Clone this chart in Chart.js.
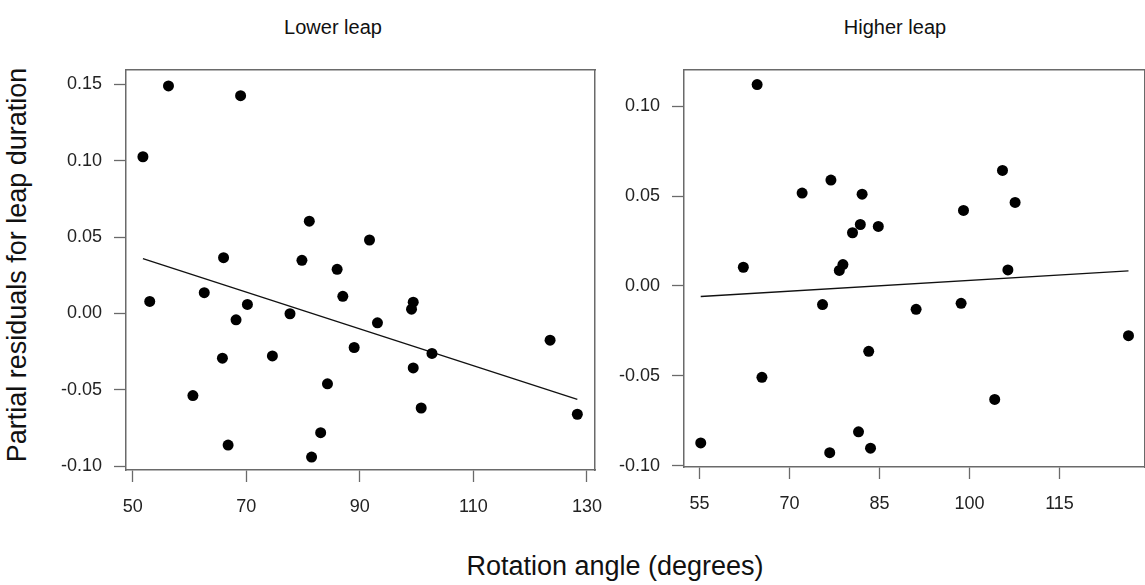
<!DOCTYPE html>
<html>
<head>
<meta charset="utf-8">
<script src="https://cdn.jsdelivr.net/npm/chart.js@4.4.1/dist/chart.umd.min.js"></script>
<style>
  html, body { margin: 0; padding: 0; background: #fff; }
  body { width: 1145px; height: 585px; position: relative; overflow: hidden; font-family: "Liberation Sans", Arial, sans-serif; }
  .box { position: absolute; }
  .lbl { position: absolute; transform: translate(-50%, -50%); white-space: nowrap; color: #111; }
</style>
</head>
<body>
<div class="lbl" style="left:333px; top:27px; font-size:20px;">Lower leap</div>
<div class="lbl" style="left:895px; top:27px; font-size:20px;">Higher leap</div>
<div class="lbl" style="left:17px; top:265px; font-size:27px; transform: translate(-50%, -50%) rotate(-90deg);">Partial residuals for leap duration</div>
<div class="lbl" style="left:615px; top:566px; font-size:27px;">Rotation angle (degrees)</div>

<div class="box" style="left:0; top:0; width:610px; height:530px;"><canvas id="lower"></canvas></div>
<div class="box" style="left:610px; top:0; width:540px; height:527px;"><canvas id="higher"></canvas></div>

<script>
// Lower leap panel
const lowerAngle = [51.8, 56.3, 69.0, 53.0, 62.6, 66.0, 70.2, 68.2, 65.8, 60.6, 66.8, 74.6, 77.7, 79.8, 81.1,
                    86.0, 87.0, 91.7, 93.1, 89.0, 84.3, 83.1, 81.5, 99.4, 99.1, 99.4, 102.7, 100.8, 123.5, 128.3];
const lowerResid = [0.1026, 0.149, 0.1426, 0.0079, 0.0136, 0.0365, 0.0059, -0.0042, -0.0293, -0.0538, -0.0862, -0.0278, -0.0002, 0.0348, 0.0604,
                    0.0289, 0.0112, 0.0481, -0.0061, -0.0223, -0.0461, -0.0781, -0.0940, 0.0074, 0.0028, -0.0357, -0.0262, -0.0619, -0.0175, -0.066];
const lowerFitX = [51.8, 128.3];
const lowerFitY = [0.0359, -0.0562];
const lowerXTicks = [50, 70, 90, 110, 130];
const lowerYTicks = [-0.10, -0.05, 0.00, 0.05, 0.10, 0.15];

// Higher leap panel
const higherAngle = [55.2, 62.3, 64.6, 65.4, 72.1, 76.9, 75.5, 76.7, 78.3, 78.9, 80.5, 81.8, 82.1, 81.5, 83.2,
                     83.5, 84.8, 91.1, 98.6, 99.0, 104.2, 105.5, 106.4, 107.6, 126.5];
const higherResid = [-0.0874, 0.0104, 0.1121, -0.0509, 0.0517, 0.0589, -0.0104, -0.0928, 0.0086, 0.0119, 0.0296, 0.0342, 0.0511, -0.0812, -0.0364,
                     -0.0903, 0.0331, -0.0130, -0.0097, 0.0420, -0.0632, 0.0643, 0.0089, 0.0465, -0.0277];
const higherFitX = [55.2, 126.5];
const higherFitY = [-0.0059, 0.0084];
const higherXTicks = [55, 70, 85, 100, 115];
const higherYTicks = [-0.10, -0.05, 0.00, 0.05, 0.10];

const FONT = "'Liberation Sans', Arial, sans-serif";
const AXIS_GREY = '#6a6a6a';

function toPoints(xs, ys) {
    return xs.map((x, i) => ({ x: x, y: ys[i] }));
}

function frameAxis(position) {
    // plain edge of the plot box, no ticks
    return {
        type: 'linear',
        position: position,
        ticks: { display: false },
        grid: { display: false },
        border: { display: true, color: AXIS_GREY, width: 1.5 },
        afterFit: (s) => {
            if (position === 'top') s.height = 0; else s.width = 0;
            s.paddingLeft = s.paddingRight = s.paddingTop = s.paddingBottom = 0;
        }
    };
}

function makePanel(id, opts) {
    const ctx = document.getElementById(id).getContext('2d');
    new Chart(ctx, {
        type: 'scatter',
        data: {
            datasets: [{
                data: toPoints(opts.xs, opts.ys),
                backgroundColor: '#000',
                borderColor: '#000',
                pointRadius: 5.5,
                pointHoverRadius: 5.5,
                borderWidth: 0
            }, {
                type: 'line',
                data: toPoints(opts.fitX, opts.fitY),
                borderColor: '#111',
                borderWidth: 1.3,
                pointRadius: 0,
                fill: false
            }]
        },
        options: {
            responsive: true,
            maintainAspectRatio: false,
            animation: false,
            events: [],
            layout: { padding: { top: 70, right: opts.padRight, left: 0, bottom: 0 } },
            plugins: { legend: { display: false }, tooltip: { enabled: false } },
            scales: {
                x: {
                    type: 'linear',
                    min: opts.xMin,
                    max: opts.xMax,
                    afterBuildTicks: (s) => { s.ticks = opts.xTicks.map(v => ({ value: v })); },
                    afterFit: (s) => { s.height = 60; s.paddingLeft = 0; s.paddingRight = 0; },
                    grid: { display: true, drawOnChartArea: false, drawTicks: true, tickLength: 12, tickWidth: 1.3, tickColor: AXIS_GREY },
                    border: { display: true, color: AXIS_GREY, width: 1.5 },
                    ticks: { font: { family: FONT, size: 18 }, color: '#222', padding: 14, maxRotation: 0, autoSkip: false,
                             callback: (v) => String(v) }
                },
                y: {
                    type: 'linear',
                    min: opts.yMin,
                    max: opts.yMax,
                    afterBuildTicks: (s) => { s.ticks = opts.yTicks.map(v => ({ value: v })); },
                    afterFit: (s) => { s.width = opts.yWidth; s.paddingTop = 0; s.paddingBottom = 0; },
                    grid: { display: true, drawOnChartArea: false, drawTicks: true, tickLength: 12, tickWidth: 1.3, tickColor: AXIS_GREY },
                    border: { display: true, color: AXIS_GREY, width: 1.5 },
                    ticks: { font: { family: FONT, size: 18 }, color: '#222', padding: 12, autoSkip: false,
                             callback: (v) => v.toFixed(2) }
                },
                x2: frameAxis('top'),
                y2: frameAxis('right')
            }
        }
    });
}

makePanel('lower', {
    xs: lowerAngle, ys: lowerResid, fitX: lowerFitX, fitY: lowerFitY,
    xTicks: lowerXTicks, yTicks: lowerYTicks,
    xMin: 48.82, xMax: 131.41, yMin: -0.1025, yMax: 0.1594,
    yWidth: 126, padRight: 15
});

// the right panel's box runs past the page edge, as in the source figure
makePanel('higher', {
    xs: higherAngle, ys: higherResid, fitX: higherFitX, fitY: higherFitY,
    xTicks: higherXTicks, yTicks: higherYTicks,
    xMin: 52.41, xMax: 129.17, yMin: -0.1008, yMax: 0.1202,
    yWidth: 74, padRight: 0
});
</script>
</body>
</html>
